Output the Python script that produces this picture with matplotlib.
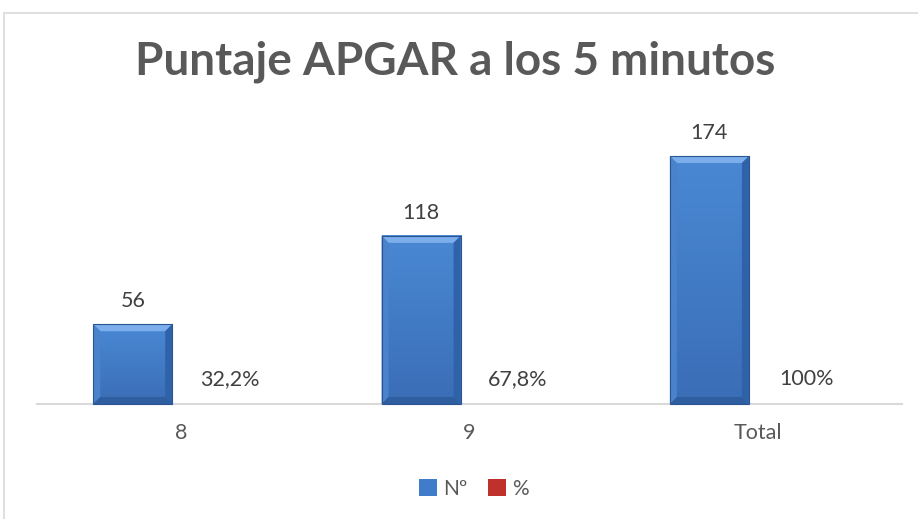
import matplotlib
matplotlib.use("Agg")
import matplotlib.pyplot as plt
import numpy as np
from matplotlib.patches import Polygon, Rectangle
from matplotlib.transforms import IdentityTransform

categories = ["8", "9", "Total"]
counts = [56, 118, 174]
percents = [0.322, 0.678, 1.0]
percent_labels = ["32,2%", "67,8%", "100%"]
series_names = ["Nº", "%"]
title = "Puntaje APGAR a los 5 minutos"

FONT = "Lato"
GREY = "#595959"
BLUE = "#3F7DCB"
RED = "#C0302C"

W, H = 918, 519
fig = plt.figure(figsize=(W / 100, H / 100), dpi=100)
fig.patch.set_facecolor("white")

# chart border
fig.add_artist(Rectangle((4 / W, -0.1), 1.2, (H - 13) / H + 0.1, transform=fig.transFigure,
                         fill=False, edgecolor="#D9D9D9", lw=1.2))

ax_left = 37 / W
ax_right = 902 / W
ax_bottom = (H - 404) / H
ax_height = 285 / H
ax = fig.add_axes([ax_left, ax_bottom, ax_right - ax_left, ax_height])
ax.set_xlim(-0.5, 2.5)
ax.set_ylim(0, 200)
for s in ["left", "right", "top"]:
    ax.spines[s].set_visible(False)
ax.spines["bottom"].set_color("#D9D9D9")
ax.spines["bottom"].set_linewidth(1.5)
ax.set_yticks([])
x = np.arange(len(categories))
ax.set_xticks(x)
ax.set_xticklabels(categories, fontsize=15.5, color=GREY, family=FONT)
ax.tick_params(axis="x", length=0, pad=14)

off = 0.168
bw = 0.274
bars_blue = ax.bar(x - off, counts, width=bw, color=BLUE, zorder=2, label=series_names[0])
bars_red = ax.bar(x + off, percents, width=bw, color=RED, zorder=2, label=series_names[1])

for xi, v in zip(x, counts):
    ax.annotate(str(v), (xi - off, v), xytext=(0, 23), textcoords="offset pixels",
                ha="center", va="center", fontsize=15.5, color="#404040", family=FONT)
for xi, v, lab in zip(x, percents, percent_labels):
    ax.annotate(lab, (xi + off, v), xytext=(0, 24), textcoords="offset pixels",
                ha="center", va="center", fontsize=15.5, color="#404040", family=FONT)

fig.text(455 / W, 1 - 62 / H, title, ha="center", va="center", fontsize=33,
         fontweight="bold", color=GREY, family=FONT)

# bevel effect on blue bars
fig.canvas.draw()
ident = IdentityTransform()
for b in bars_blue:
    bb = b.get_window_extent()
    x0, y0, x1, y1 = bb.x0, bb.y0, bb.x1, bb.y1
    grad = np.linspace(0, 1, 64).reshape(-1, 1)
    top_c = np.array(matplotlib.colors.to_rgb("#4A88D4"))
    bot_c = np.array(matplotlib.colors.to_rgb("#3A6EB6"))
    img = (bot_c[None, None, :] * (1 - grad[..., None]) + top_c[None, None, :] * grad[..., None])
    ax.imshow(img, extent=(b.get_x(), b.get_x() + b.get_width(), 0, b.get_height()),
              origin="lower", aspect="auto", zorder=3)
    d = 7
    polys = [
        ([(x0, y1), (x1, y1), (x1 - d, y1 - d), (x0 + d, y1 - d)], "#7CAEEB"),
        ([(x0, y0), (x0, y1), (x0 + d, y1 - d), (x0 + d, y0 + d)], "#4A82CC"),
        ([(x1, y0), (x1, y1), (x1 - d, y1 - d), (x1 - d, y0 + d)], "#2F62A8"),
        ([(x0, y0), (x1, y0), (x1 - d, y0 + d), (x0 + d, y0 + d)], "#2E5E9F"),
    ]
    for pts, c in polys:
        fig.add_artist(Polygon(pts, closed=True, transform=ident, facecolor=c,
                               edgecolor="none", zorder=4))
    fig.add_artist(Rectangle((x0, y0), x1 - x0, y1 - y0, transform=ident, fill=False,
                             edgecolor="#2A5592", lw=0.8, zorder=5))
ax.set_xlim(-0.5, 2.5)
ax.set_ylim(0, 200)

leg = fig.legend(handles=[bars_blue, bars_red], labels=series_names, loc="center",
                 bbox_to_anchor=(474 / W, 1 - 489 / H), ncol=2, frameon=False,
                 prop={"family": FONT, "size": 15}, handlelength=0.85, handleheight=0.85,
                 handletextpad=0.3, columnspacing=1.0)
for t in leg.get_texts():
    t.set_color(GREY)

fig.savefig("out.png", dpi=100, facecolor="white")
